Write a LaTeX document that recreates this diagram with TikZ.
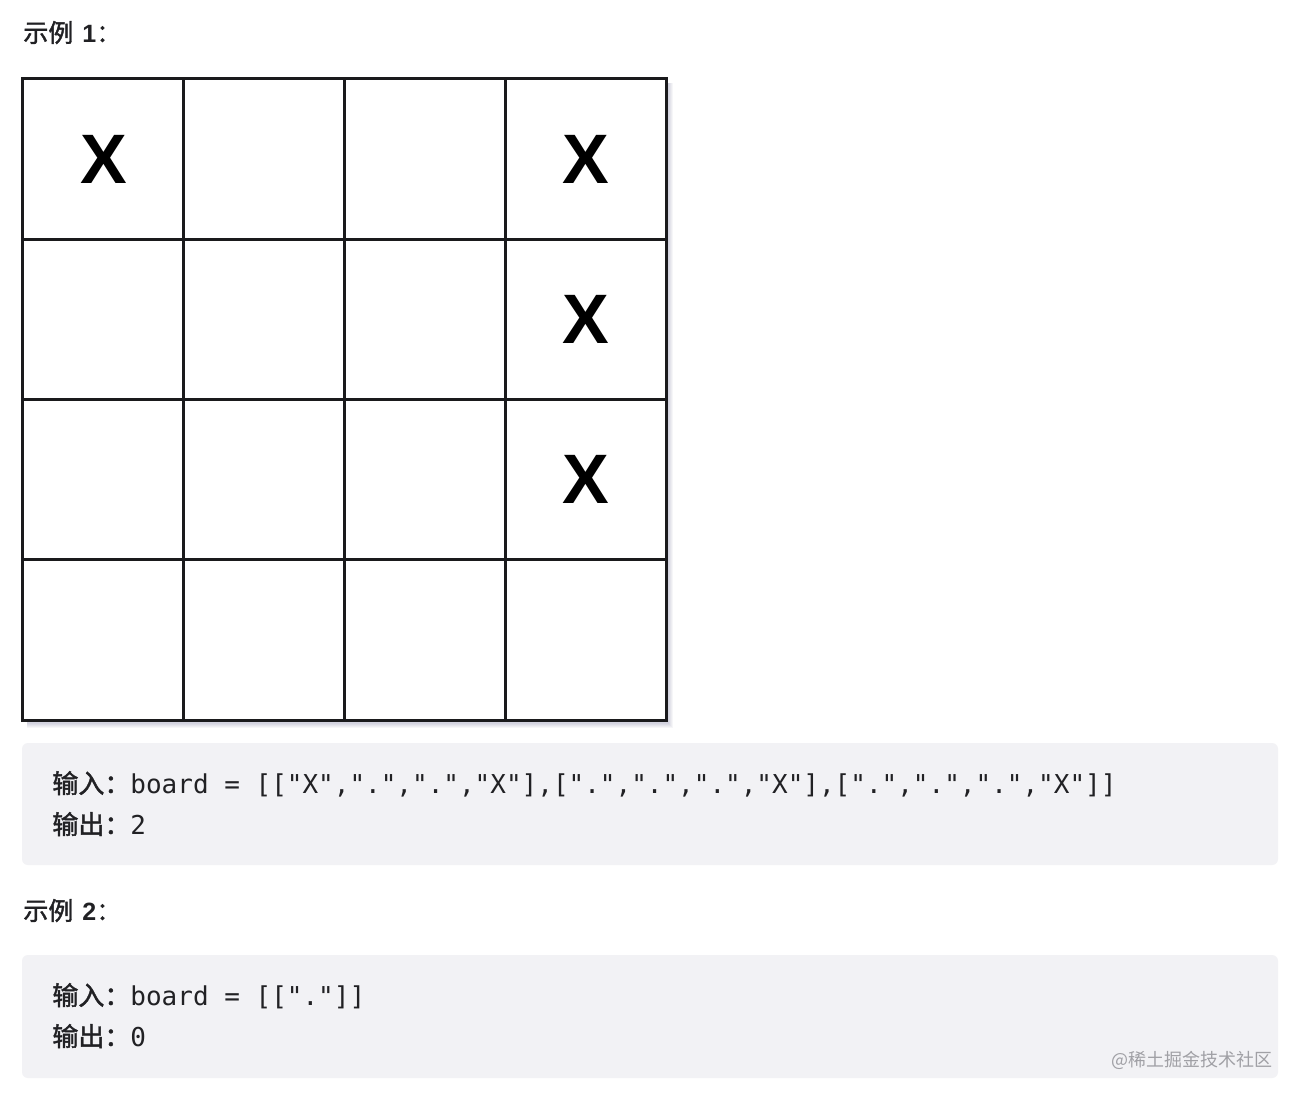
\documentclass[tikz,border=0pt]{standalone}
\usepackage{fontspec}
\setmainfont{Liberation Sans}
\newfontfamily\cjk{Noto Sans CJK SC}
\newfontfamily\cjkb[FakeBold=1.6]{Noto Sans CJK SC}
\newfontfamily\mono{DejaVu Sans Mono}
\definecolor{codebg}{RGB}{242,242,245}
\definecolor{gridline}{RGB}{26,26,28}
\definecolor{txt}{RGB}{33,33,36}
\definecolor{wm}{RGB}{160,160,165}
\tikzset{
  cell/.style={draw=gridline, line width=1.5pt, fill=white, minimum width=80.4pt, minimum height=80.2pt, inner sep=0},
  xmark/.style={inner sep=0, font=\bfseries\fontsize{35}{35}\selectfont, text=black},
  title/.style={anchor=base west, inner sep=0, text=txt, font=\cjkb\fontsize{12.5}{15}\selectfont},
  code/.style={anchor=base west, inner sep=0, text=txt, font=\mono\fontsize{13}{15}\selectfont},
  codebox/.style={fill=codebg, rounded corners=3pt}
}
\begin{document}
\begin{tikzpicture}[x=0.5pt,y=-0.5pt]
\useasboundingbox (0,0) rectangle (1302,1098);
\fill[white] (0,0) rectangle (1302,1098);
% title 1
\node[title] (t1) at (23,42) {示例\hspace{4.5pt}{\fontspec{Liberation Sans}\bfseries 1}：};
% shadow of grid
\foreach \k in {1,...,7}{
  \fill[black!70!blue, opacity=0.035] (27,83) rectangle (666+\k,720+\k*1.2);
}
% grid cells
\foreach \r in {0,...,3}{
  \foreach \c in {0,...,3}{
    \node[cell] (c\r\c) at ({23+160.75*(\c+0.5)},{79+160.25*(\r+0.5)}) {};
  }
}
\node[xmark] (x00) at (c00) {X};
\node[xmark] (x03) at (c03) {X};
\node[xmark] (x13) at (c13) {X};
\node[xmark] (x23) at (c23) {X};
% code box 1
\fill[codebox] (22,743) rectangle (1278,865);
\node[code] (in1) at (52,793) {{\cjkb 输入：}board = [["X",".",".","X"],[".",".",".","X"],[".",".",".","X"]]};
\node[code] (out1) at (52,834) {{\cjkb 输出：}2};
% title 2
\node[title] (t2) at (23,920) {示例\hspace{4.5pt}{\fontspec{Liberation Sans}\bfseries 2}：};
% code box 2
\fill[codebox] (22,955) rectangle (1278,1078);
\node[code] (in2) at (52,1005) {{\cjkb 输入：}board = [["."]]};
\node[code] (out2) at (52,1046) {{\cjkb 输出：}0};
% watermark
\node[anchor=base east, inner sep=0, text=wm, font=\cjk\fontsize{9}{11}\selectfont] (wm) at (1273,1066) {@稀土掘金技术社区};
\end{tikzpicture}
\end{document}
